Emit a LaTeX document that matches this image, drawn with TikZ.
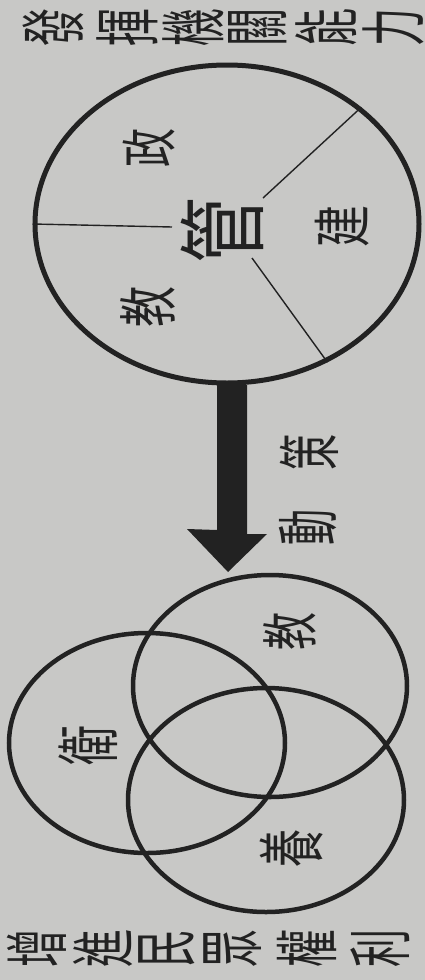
\documentclass[tikz,border=0pt]{standalone}
\usepackage{fontspec}
\newfontfamily\cjk{Noto Sans CJK TC}
\usetikzlibrary{shapes.geometric}
\definecolor{paper}{RGB}{200,200,198}
\definecolor{ink}{RGB}{34,34,34}
\newcommand{\myzi}[3]{\scalebox{1}[#2]{\fontsize{#1}{#1}\cjk #3}}
\tikzset{
  zi/.style={rotate=90, inner sep=0pt, text=ink},
  ring/.style={draw=ink, ellipse, line width=4.5pt, inner sep=0pt},
  spoke/.style={draw=ink, line width=1.4pt},
}
\begin{document}
\begin{tikzpicture}[x=1pt,y=-1pt]
\useasboundingbox (0,0) rectangle (425,980);
\fill[paper] (0,0) rectangle (425,980);

% title top
\node[zi] (t1) at (53,27) {\myzi{38}{1.75}{發}};
\node[zi] (t2) at (127,27) {\myzi{38}{1.75}{揮}};
\node[zi] (t3) at (193,27) {\myzi{38}{1.75}{機}};
\node[zi] (t4) at (258,27) {\myzi{38}{1.75}{關}};
\node[zi] (t5) at (326,27) {\myzi{38}{1.75}{能}};
\node[zi] (t6) at (393,27) {\myzi{38}{1.75}{力}};

% big circle
\node[ring, line width=5pt, minimum width=384pt, minimum height=318pt] (big) at (227,224) {};
\node[zi] (guan) at (222,230) {\myzi{66}{1.35}{管}};
\node[zi] (zheng) at (149,148) {\myzi{39}{1.45}{政}};
\node[zi] (jian) at (342,226) {\myzi{42}{1.4}{建}};
\node[zi] (jiao1) at (148,307) {\myzi{41}{1.45}{教}};
\coordinate (sL) at (172,227);
\coordinate (sU) at (263,198);
\coordinate (sD) at (252,258);
\draw[spoke] (sL) -- (big.west);
\draw[spoke] (sU) -- (big.41.6);
\draw[spoke] (sD) -- (big.-54.8);

% arrow
\fill[ink] (217,385) -- (247,385) -- (247,534) -- (267,534) -- (228,572) -- (187,529) -- (217,530) -- cycle;
\node[zi] (ce) at (309,452) {\myzi{36}{1.75}{策}};
\node[zi] (dong) at (308,527) {\myzi{36}{1.75}{動}};

% venn
\node[ring, minimum width=276pt, minimum height=220pt] (va) at (147,743) {};
\node[ring, minimum width=274pt, minimum height=222pt] (vb) at (270,686) {};
\node[ring, minimum width=276pt, minimum height=224pt] (vc) at (266,800) {};
\node[zi] (wei) at (88,745) {\myzi{40}{1.6}{衛}};
\node[zi] (jiao2) at (290,631) {\myzi{38}{1.5}{教}};
\node[zi] (yang) at (292,848) {\myzi{38}{1.8}{養}};

% title bottom
\node[zi] (b1) at (37,948) {\myzi{38}{1.7}{增}};
\node[zi] (b2) at (103,948) {\myzi{38}{1.7}{進}};
\node[zi] (b3) at (167,948) {\myzi{38}{1.7}{民}};
\node[zi] (b4) at (233,948) {\myzi{38}{1.7}{眾}};
\node[zi] (b5) at (307,948) {\myzi{38}{1.7}{權}};
\node[zi] (b6) at (380,948) {\myzi{38}{1.7}{利}};
\end{tikzpicture}
\end{document}
